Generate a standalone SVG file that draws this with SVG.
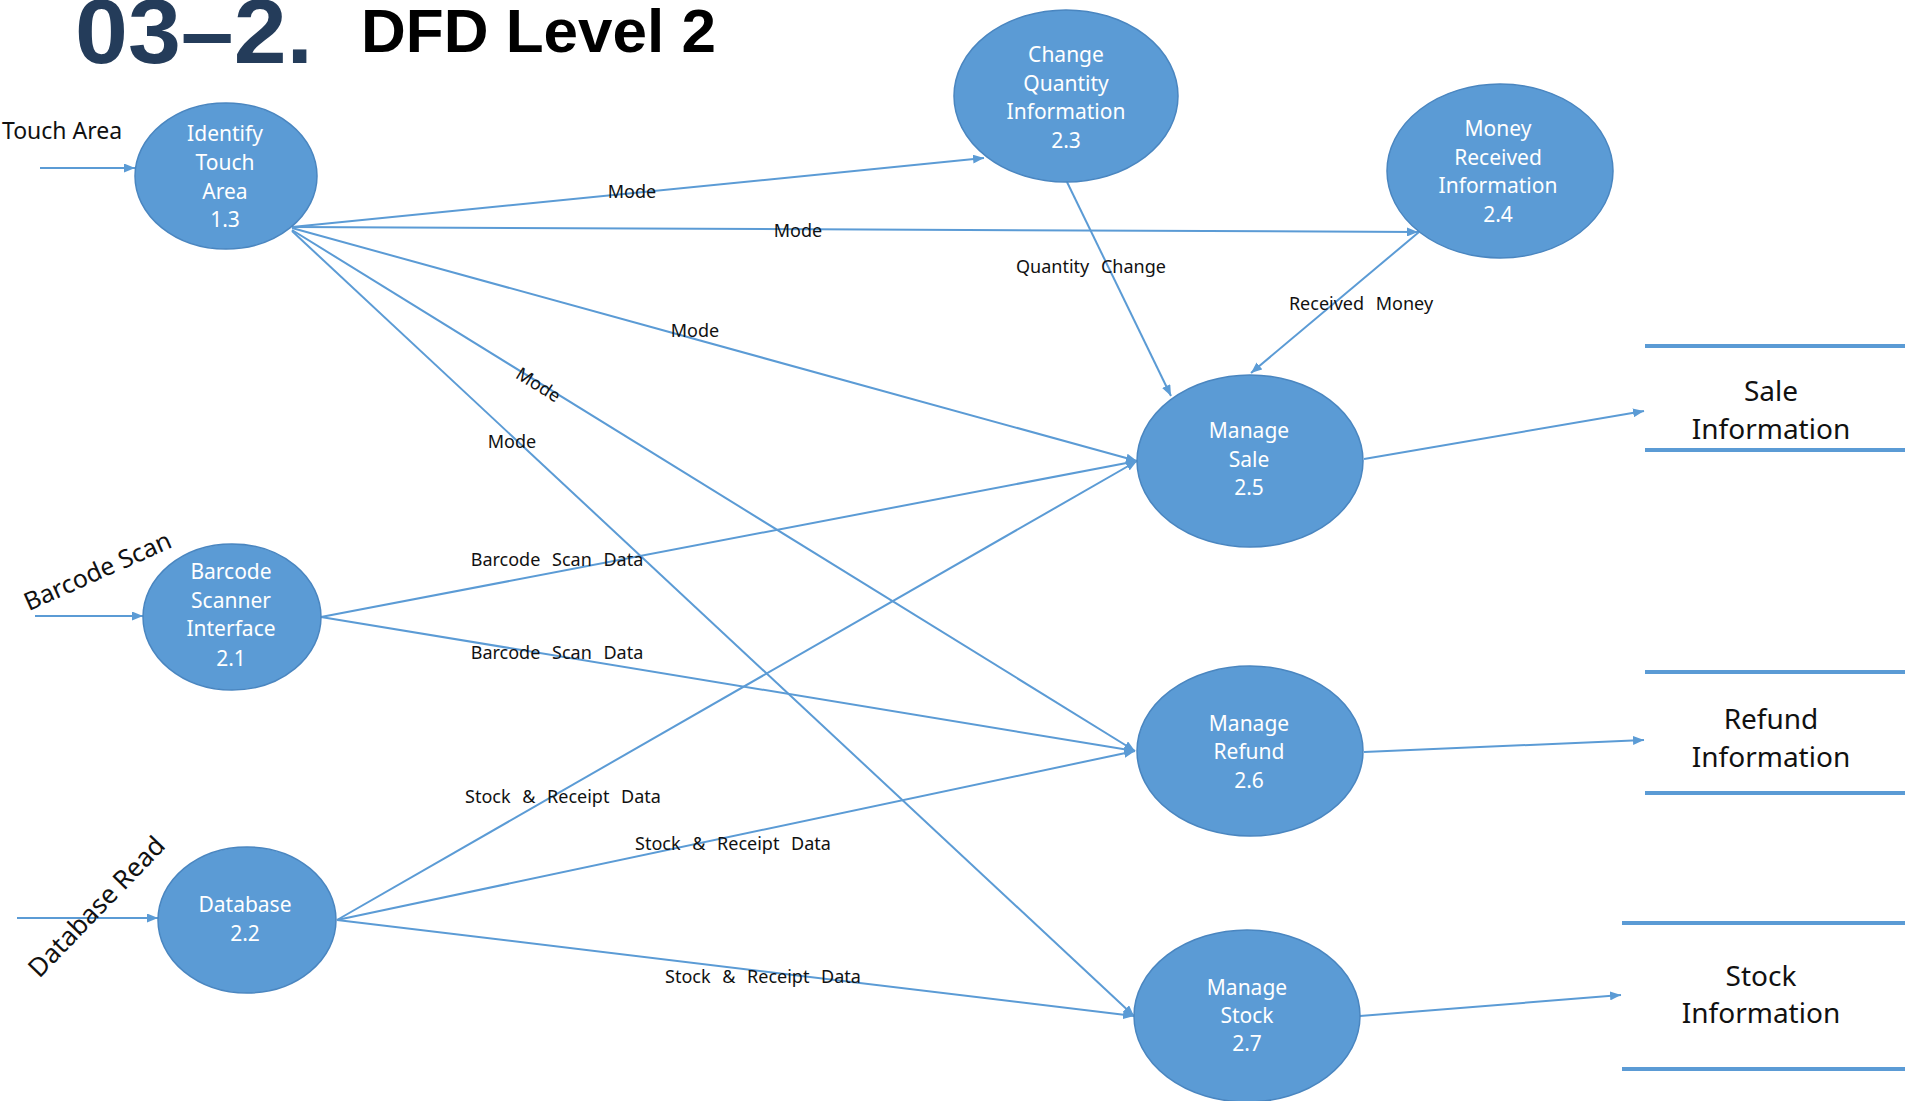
<svg xmlns="http://www.w3.org/2000/svg" width="1905" height="1101" viewBox="0 0 1905 1101">
  <style>
    .proc { fill: #5B9BD5; stroke: #4A86C0; stroke-width: 1.5; }
    .ptxt { fill: #FFFFFF; font-family: "Noto Sans", "Open Sans", sans-serif; font-size: 21px; text-anchor: middle; }
    .flow { fill: none; stroke: #5B9BD5; stroke-width: 2; marker-end: url(#arr); }
    .elbl { fill: #111111; font-family: "Noto Sans", "Open Sans", sans-serif; font-size: 18px; text-anchor: middle; word-spacing: 7px; }
    .ext  { fill: #111111; font-family: "Noto Sans", "Open Sans", sans-serif; }
    .store { stroke: #5B9BD5; stroke-width: 4; }
    .stxt { fill: #111111; font-family: "Noto Sans", "Open Sans", sans-serif; font-size: 28px; text-anchor: middle; }
  </style>
  <defs>
    <marker id="arr" markerUnits="userSpaceOnUse" markerWidth="11" markerHeight="9" refX="11" refY="4.5" orient="auto">
      <path d="M0,0 L11,4.5 L0,9 z" fill="#5B9BD5"/>
    </marker>
  </defs>

  <rect width="1905" height="1101" fill="#FFFFFF"/>

  <!-- heading -->
  <g id="heading">
    <text x="75" y="63" font-family="'Liberation Sans', Arial, sans-serif" font-weight="bold" font-size="90" fill="#243C5A" textLength="238" lengthAdjust="spacingAndGlyphs">03–2.</text>
    <text x="361" y="52" font-family="'Liberation Sans', Arial, sans-serif" font-weight="bold" font-size="62" fill="#000000">DFD Level 2</text>
  </g>

  <!-- data flows -->
  <g id="connectors">
    <!-- external inputs -->
    <line class="flow" x1="40" y1="168" x2="135" y2="168"/>
    <line class="flow" x1="35" y1="616" x2="143" y2="616"/>
    <line class="flow" x1="17" y1="918" x2="158" y2="918"/>

    <!-- Mode flows from 1.3 -->
    <line class="flow" x1="292" y1="227" x2="984" y2="158"/>
    <line class="flow" x1="292" y1="227" x2="1418" y2="232"/>
    <line class="flow" x1="292" y1="228" x2="1137" y2="461"/>
    <line class="flow" x1="292" y1="230" x2="1135" y2="751"/>
    <line class="flow" x1="292" y1="231" x2="1134" y2="1016"/>

    <!-- 2.3 / 2.4 into 2.5 -->
    <line class="flow" x1="1067" y1="182" x2="1171" y2="396"/>
    <line class="flow" x1="1419" y1="232" x2="1251" y2="373"/>

    <!-- barcode scan data -->
    <line class="flow" x1="321" y1="617" x2="1137" y2="461"/>
    <line class="flow" x1="321" y1="617" x2="1135" y2="751"/>

    <!-- stock & receipt data -->
    <line class="flow" x1="337" y1="920" x2="1137" y2="461"/>
    <line class="flow" x1="337" y1="920" x2="1135" y2="751"/>
    <line class="flow" x1="337" y1="920" x2="1134" y2="1016"/>

    <!-- outputs to stores -->
    <line class="flow" x1="1364" y1="459" x2="1644" y2="411"/>
    <line class="flow" x1="1364" y1="752" x2="1644" y2="740"/>
    <line class="flow" x1="1360" y1="1016" x2="1621" y2="995"/>

    <!-- flow labels -->
    <text class="elbl" x="632" y="198">Mode</text>
    <text class="elbl" x="798" y="237">Mode</text>
    <text class="elbl" x="695" y="337">Mode</text>
    <text class="elbl" transform="translate(535,390) rotate(32)">Mode</text>
    <text class="elbl" x="512" y="448">Mode</text>
    <text class="elbl" x="1091" y="273">Quantity Change</text>
    <text class="elbl" x="1361" y="310">Received Money</text>
    <text class="elbl" x="557" y="566">Barcode Scan Data</text>
    <text class="elbl" x="557" y="659">Barcode Scan Data</text>
    <text class="elbl" x="563" y="803">Stock &amp; Receipt Data</text>
    <text class="elbl" x="733" y="850">Stock &amp; Receipt Data</text>
    <text class="elbl" x="763" y="983">Stock &amp; Receipt Data</text>

    <!-- external input labels -->
    <text class="ext" x="2" y="139" font-size="23">Touch Area</text>
    <text class="ext" font-size="25" text-anchor="middle" transform="translate(101,579) rotate(-24)">Barcode Scan</text>
    <text class="ext" font-size="26" text-anchor="middle" transform="translate(103,913) rotate(-46)">Database Read</text>
  </g>

  <!-- processes -->
  <g id="p13">
    <ellipse class="proc" cx="226" cy="176" rx="91" ry="73"/>
    <text class="ptxt" x="225" y="141">Identify</text>
    <text class="ptxt" x="225" y="170">Touch</text>
    <text class="ptxt" x="225" y="199">Area</text>
    <text class="ptxt" x="225" y="227">1.3</text>
  </g>
  <g id="p23">
    <ellipse class="proc" cx="1066" cy="96" rx="112" ry="86"/>
    <text class="ptxt" x="1066" y="62">Change</text>
    <text class="ptxt" x="1066" y="91">Quantity</text>
    <text class="ptxt" x="1066" y="119">Information</text>
    <text class="ptxt" x="1066" y="148">2.3</text>
  </g>
  <g id="p24">
    <ellipse class="proc" cx="1500" cy="171" rx="113" ry="87"/>
    <text class="ptxt" x="1498" y="136">Money</text>
    <text class="ptxt" x="1498" y="165">Received</text>
    <text class="ptxt" x="1498" y="193">Information</text>
    <text class="ptxt" x="1498" y="222">2.4</text>
  </g>
  <g id="p25">
    <ellipse class="proc" cx="1250" cy="461" rx="113" ry="86"/>
    <text class="ptxt" x="1249" y="438">Manage</text>
    <text class="ptxt" x="1249" y="467">Sale</text>
    <text class="ptxt" x="1249" y="495">2.5</text>
  </g>
  <g id="p26">
    <ellipse class="proc" cx="1250" cy="751" rx="113" ry="85"/>
    <text class="ptxt" x="1249" y="731">Manage</text>
    <text class="ptxt" x="1249" y="759">Refund</text>
    <text class="ptxt" x="1249" y="788">2.6</text>
  </g>
  <g id="p27">
    <ellipse class="proc" cx="1247" cy="1016" rx="113" ry="86"/>
    <text class="ptxt" x="1247" y="995">Manage</text>
    <text class="ptxt" x="1247" y="1023">Stock</text>
    <text class="ptxt" x="1247" y="1051">2.7</text>
  </g>
  <g id="p21">
    <ellipse class="proc" cx="232" cy="617" rx="89" ry="73"/>
    <text class="ptxt" x="231" y="579">Barcode</text>
    <text class="ptxt" x="231" y="608">Scanner</text>
    <text class="ptxt" x="231" y="636">Interface</text>
    <text class="ptxt" x="231" y="666">2.1</text>
  </g>
  <g id="p22">
    <ellipse class="proc" cx="247" cy="920" rx="89" ry="73"/>
    <text class="ptxt" x="245" y="912">Database</text>
    <text class="ptxt" x="245" y="941">2.2</text>
  </g>

  <!-- data stores -->
  <g id="sale-info">
    <line class="store" x1="1645" y1="346" x2="1905" y2="346"/>
    <line class="store" x1="1645" y1="450" x2="1905" y2="450"/>
    <text class="stxt" x="1771" y="401">Sale</text>
    <text class="stxt" x="1771" y="439">Information</text>
  </g>
  <g id="refund-info">
    <line class="store" x1="1645" y1="672" x2="1905" y2="672"/>
    <line class="store" x1="1645" y1="793" x2="1905" y2="793"/>
    <text class="stxt" x="1771" y="729">Refund</text>
    <text class="stxt" x="1771" y="767">Information</text>
  </g>
  <g id="stock-info">
    <line class="store" x1="1622" y1="923" x2="1905" y2="923"/>
    <line class="store" x1="1622" y1="1069" x2="1905" y2="1069"/>
    <text class="stxt" x="1761" y="986">Stock</text>
    <text class="stxt" x="1761" y="1023">Information</text>
  </g>
</svg>
